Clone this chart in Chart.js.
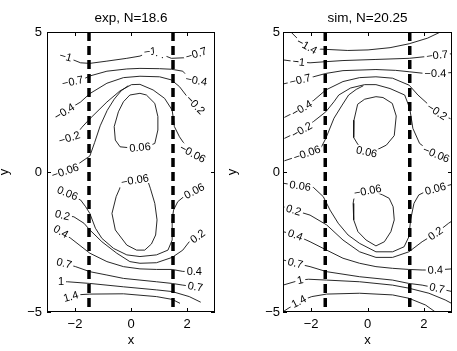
<!DOCTYPE html>
<html>
<head>
<meta charset="utf-8">
<script src="https://cdn.jsdelivr.net/npm/chart.js@4.4.0/dist/chart.umd.min.js"></script>
<style>
  html, body { margin: 0; padding: 0; background: #fff; }
  #wrap { position: relative; width: 457px; height: 351px; }
  canvas { position: absolute; top: 0; }
  #expChart { left: 0; }
  #simChart { left: 228px; }
</style>
</head>
<body>
<div id="wrap">
  <canvas id="expChart" width="228" height="351"></canvas>
  <canvas id="simChart" width="229" height="351"></canvas>
</div>
<script>
const xTicks = [-2, 0, 2];
const yTicks = [-5, 0, 5];
const xRange = [-3, 3];
const yRange = [-5, 5];
const dashX = [-1.5, 1.5];

// contour lines: [x, y] or [x, y, label]
const expLines = [
  [[-2.6, 4.15], [-2.33, 4.12, '−1'], [-2.05, 4.0], [-1.8, 3.9], [-1.47, 3.88], [-0.86, 3.96], [-0.15, 4.06], [0.32, 4.14], [0.68, 4.3, '−1'], [1.05, 4.22, '. .'], [1.44, 4.06], [1.91, 4.08], [2.33, 4.22, '−0.7'], [2.55, 4.28]],
  [[-2.08, 3.23, '−0.7'], [-1.74, 3.3], [-1.47, 3.43], [-0.86, 3.6], [-0.15, 3.68], [0.32, 3.7], [1.02, 3.69], [1.44, 3.67], [1.85, 3.6], [2.1, 3.32], [2.33, 3.27, '−0.4'], [2.55, 3.25]],
  [[-2.38, 2.15, '−0.4'], [-1.8, 2.5], [-1.47, 2.8], [-0.86, 3.17], [-0.27, 3.37], [0.32, 3.42], [1.02, 3.4], [1.44, 3.29], [1.73, 3.05], [1.96, 2.75], [2.3, 2.4, '−0.2'], [2.5, 2.2]],
  [[-2.5, 1.18], [-2.2, 1.22, '−0.2'], [-1.95, 1.35], [-1.75, 1.6], [-1.47, 1.9], [-0.86, 2.5], [-0.39, 2.9], [0.02, 3.12], [0.32, 3.13], [0.79, 2.93], [1.2, 2.63], [1.47, 2.21], [1.55, 1.62], [1.73, 1.26], [1.96, 0.92], [2.2, 0.66, '−0.06'], [2.55, 0.6]],
  [[-2.6, 0.0], [-2.35, 0.03, '−0.06'], [-2.0, 0.2], [-1.75, 0.38], [-1.47, 0.57], [-1.3, 1.05], [-1.1, 1.65], [-0.85, 2.2], [-0.6, 2.6], [-0.35, 2.9], [-0.1, 3.08]],
  [[0.32, 2.81], [-0.04, 2.75], [-0.27, 2.51], [-0.45, 2.15], [-0.6, 1.62], [-0.56, 1.14], [-0.39, 0.9], [0.0, 0.86], [0.32, 0.88, '0.06'], [0.6, 0.92], [0.85, 1.02], [0.96, 1.5], [0.96, 1.98], [0.85, 2.45], [0.55, 2.75], [0.32, 2.81]],
  [[0.14, -0.29, '−0.06'], [-0.1, -0.33], [-0.33, -0.42], [-0.53, -0.88], [-0.68, -1.48], [-0.56, -2.07], [-0.15, -2.61], [0.2, -2.79], [0.49, -2.79], [0.73, -2.57], [0.88, -2.25], [0.93, -1.71], [0.85, -1.12], [0.69, -0.58], [0.6, -0.32], [0.4, -0.25], [0.14, -0.29]],
  [[-2.55, -0.7], [-2.27, -0.76, '0.06'], [-1.8, -1.0], [-1.62, -1.24], [-1.47, -1.48], [-1.27, -2.01], [-1.04, -2.37], [-0.62, -2.73], [-0.15, -2.96], [0.32, -3.02], [0.91, -2.96], [1.32, -2.79], [1.47, -2.43], [1.47, -1.71], [1.52, -1.36], [1.67, -1.06], [1.96, -0.82], [2.26, -0.68, '0.06'], [2.45, -0.55]],
  [[-2.65, -1.45], [-2.45, -1.54, '0.2'], [-2.04, -1.6], [-1.68, -1.83], [-1.47, -2.07], [-1.04, -2.49], [-0.51, -2.9], [-0.04, -3.2], [0.32, -3.26], [0.91, -3.24], [1.47, -3.05], [1.85, -2.79], [2.08, -2.49], [2.38, -2.3, '0.2'], [2.55, -2.15]],
  [[-2.7, -2.05], [-2.5, -2.13, '0.4'], [-2.15, -2.37], [-1.47, -2.9], [-0.86, -3.2], [-0.27, -3.38], [0.32, -3.46], [0.91, -3.48], [1.47, -3.48], [1.85, -3.55], [2.26, -3.56, '0.4'], [2.55, -3.55]],
  [[-2.65, -3.2], [-2.39, -3.26, '0.7'], [-1.98, -3.38], [-1.47, -3.56], [-0.86, -3.68], [-0.27, -3.8], [0.32, -3.86], [0.91, -3.92], [1.47, -3.98], [1.85, -4.04], [2.3, -4.1, '0.7'], [2.55, -4.15]],
  [[-2.5, -3.92, '1'], [-2.27, -3.92], [-1.47, -3.98], [-0.27, -4.1], [0.91, -4.21], [1.47, -4.27], [2.08, -4.45], [2.49, -4.65]],
  [[-2.4, -4.55], [-2.15, -4.45, '1.4'], [-1.8, -4.38], [-1.47, -4.36], [-0.27, -4.35], [0.91, -4.45], [1.47, -4.55], [1.75, -4.69]]
];

const simLines = [
  [[-2.72, 5.0], [-2.4, 4.68], [-2.15, 4.5, '−1.4'], [-1.9, 4.4], [-1.48, 4.38], [-0.7, 4.34], [0.02, 4.36], [0.8, 4.44], [1.48, 4.58], [2.13, 4.78], [2.59, 5.0]],
  [[-2.97, 4.0], [-2.44, 3.93, '−1'], [-2.04, 3.9], [-1.48, 3.94], [-0.87, 3.98], [0.3, 4.02], [1.48, 4.06], [2.06, 4.12], [2.47, 4.17, '−0.7'], [2.97, 4.22]],
  [[-2.97, 3.15], [-2.39, 3.29, '−0.7'], [-1.92, 3.4], [-1.48, 3.52], [-0.87, 3.62], [0.3, 3.66], [1.0, 3.63], [1.48, 3.58], [1.94, 3.53], [2.41, 3.52, '−0.4'], [2.97, 3.55]],
  [[-2.95, 1.95], [-2.33, 2.27, '−0.4'], [-1.92, 2.55], [-1.48, 2.93], [-0.87, 3.23], [-0.28, 3.37], [0.3, 3.4], [0.89, 3.35], [1.48, 3.1], [1.79, 2.75], [2.12, 2.45], [2.47, 2.15, '−0.2'], [2.95, 1.9]],
  [[-2.95, 1.2], [-2.33, 1.5, '−0.2'], [-1.92, 1.8], [-1.48, 2.15], [-1.19, 2.51], [-1.02, 2.75], [-0.6, 3.0], [-0.1, 3.12], [0.3, 3.12], [0.8, 2.98], [1.32, 2.75], [1.5, 2.27], [1.61, 1.56], [1.85, 1.02], [2.08, 0.85], [2.44, 0.63, '−0.06'], [2.95, 0.49]],
  [[-2.95, 0.4], [-2.15, 0.67, '−0.06'], [-1.66, 0.85], [-1.48, 1.2], [-1.19, 1.92], [-0.9, 2.39], [-0.67, 2.75], [-0.4, 2.95], [-0.15, 3.08]],
  [[0.3, 2.69], [-0.1, 2.6], [-0.35, 2.42], [-0.48, 1.85], [-0.49, 1.23], [-0.32, 0.95], [-0.03, 0.72, '0.06'], [0.35, 0.8], [0.67, 0.96], [0.95, 1.3], [1.02, 2.0], [0.88, 2.45], [0.55, 2.66], [0.3, 2.69]],
  [[0.01, -0.67, '−0.06'], [-0.25, -0.72], [-0.46, -0.82], [-0.51, -1.12], [-0.49, -1.71], [-0.34, -2.13], [-0.05, -2.43], [0.3, -2.64], [0.6, -2.49], [0.83, -2.13], [0.95, -1.71], [0.91, -1.24], [0.77, -0.94], [0.54, -0.82], [0.3, -0.72], [0.01, -0.67]],
  [[-3.0, -0.4], [-2.39, -0.5, '0.06'], [-1.92, -0.55], [-1.57, -0.88], [-1.33, -1.36], [-1.04, -1.83], [-0.69, -2.25], [-0.28, -2.55], [0.3, -2.85], [0.89, -2.85], [1.3, -2.67], [1.47, -2.31], [1.53, -1.71], [1.65, -1.12], [1.82, -0.82], [2.06, -0.7], [2.41, -0.6, '0.06'], [2.97, -0.45]],
  [[-3.0, -1.24], [-2.62, -1.36, '0.2'], [-2.04, -1.54], [-1.45, -1.89], [-0.87, -2.43], [-0.28, -2.85], [0.3, -3.05], [0.89, -3.05], [1.47, -2.85], [1.94, -2.49], [2.41, -2.2, '0.2'], [2.88, -1.83], [3.0, -1.75]],
  [[-3.0, -2.13], [-2.56, -2.25, '0.4'], [-2.04, -2.49], [-1.45, -2.79], [-0.87, -3.08], [-0.28, -3.26], [0.3, -3.38], [0.89, -3.44], [1.47, -3.48], [1.94, -3.5], [2.41, -3.5, '0.4'], [3.0, -3.46]],
  [[-3.0, -3.14], [-2.56, -3.26, '0.7'], [-2.04, -3.38], [-1.45, -3.56], [-0.28, -3.74], [0.89, -3.86], [1.47, -3.98], [1.94, -4.04], [2.47, -4.15, '0.7'], [3.0, -4.27]],
  [[-3.0, -4.04], [-2.39, -3.86, '1'], [-2.09, -3.83], [-1.45, -3.86], [-0.28, -3.92], [0.89, -4.04], [1.47, -4.15], [2.18, -4.33], [2.76, -4.57], [3.0, -4.7]],
  [[-3.0, -4.99], [-2.44, -4.63, '1.4'], [-1.98, -4.45], [-1.45, -4.36], [-0.28, -4.33], [0.89, -4.39], [1.47, -4.51], [2.06, -4.75], [2.41, -5.0]]
];

const FONT = '"Liberation Sans", Arial, Helvetica, sans-serif';
const fmt = v => String(v).replace('-', '\u2212');

/**
 * Frame, inward ticks, title, axis names and the inline contour labels.
 */
const decorPlugin = {
    id: 'decor',
    afterDatasetsDraw(chart, args, opts) {
        const { ctx, chartArea: a, scales: { x, y } } = chart;
        ctx.save();
        ctx.beginPath();
        ctx.rect(a.left, a.top, a.right - a.left, a.bottom - a.top);
        ctx.clip();
        ctx.font = '11px ' + FONT;
        ctx.textAlign = 'center';
        ctx.textBaseline = 'middle';
        opts.lines.forEach(line => line.forEach((p, i) => {
            if (p.length < 3) return;
            const q0 = line[Math.max(0, i - 1)];
            const q1 = line[Math.min(line.length - 1, i + 1)];
            let ang = Math.atan2(
                y.getPixelForValue(q1[1]) - y.getPixelForValue(q0[1]),
                x.getPixelForValue(q1[0]) - x.getPixelForValue(q0[0]));
            if (ang > Math.PI / 2) ang -= Math.PI;
            if (ang < -Math.PI / 2) ang += Math.PI;
            const w = ctx.measureText(p[2]).width;
            ctx.save();
            ctx.translate(x.getPixelForValue(p[0]), y.getPixelForValue(p[1]));
            ctx.rotate(ang);
            ctx.fillStyle = '#fff';
            ctx.fillRect(-w / 2 - 2, -5, w + 4, 10);
            ctx.fillStyle = '#000';
            ctx.fillText(p[2], 0, 0.5);
            ctx.restore();
        }));
        ctx.restore();
    },
    afterDraw(chart, args, opts) {
        const { ctx, chartArea: a, scales: { x, y } } = chart;
        ctx.save();
        ctx.strokeStyle = '#000';
        ctx.lineWidth = 1;
        ctx.strokeRect(a.left + 0.5, a.top + 0.5, a.right - a.left - 1, a.bottom - a.top - 1);
        ctx.beginPath();
        xTicks.forEach(v => {
            const px = Math.round(x.getPixelForValue(v)) + 0.5;
            ctx.moveTo(px, a.bottom); ctx.lineTo(px, a.bottom - 4);
            ctx.moveTo(px, a.top); ctx.lineTo(px, a.top + 4);
        });
        yTicks.forEach(v => {
            const py = Math.round(y.getPixelForValue(v)) + 0.5;
            ctx.moveTo(a.left, py); ctx.lineTo(a.left + 4, py);
            ctx.moveTo(a.right, py); ctx.lineTo(a.right - 4, py);
        });
        ctx.stroke();

        ctx.fillStyle = '#000';
        ctx.textAlign = 'center';
        ctx.textBaseline = 'middle';
        ctx.font = '13.5px ' + FONT;
        ctx.fillText(opts.title, (a.left + a.right) / 2, 18);
        ctx.font = '13px ' + FONT;
        ctx.fillText('x', (a.left + a.right) / 2, 340);
        ctx.translate(4, (a.top + a.bottom) / 2);
        ctx.rotate(-Math.PI / 2);
        ctx.fillText('y', 0, 0);
        ctx.restore();
    }
};

function drawPanel(id, title, lines, yAxisWidth, padRight, yTickPad) {
    const ctx = document.getElementById(id)?.getContext('2d');
    if (!ctx) return;

    const dashed = dashX.map(v => ({
        data: [{ x: v, y: yRange[1] }, { x: v, y: yRange[0] }],
        borderColor: '#000',
        borderWidth: 3.5,
        borderDash: [9, 5],
        borderCapStyle: 'butt',
        order: 0
    }));
    const contours = lines.map(line => ({
        data: line.map(p => ({ x: p[0], y: p[1] })),
        borderColor: '#111',
        borderWidth: 0.9,
        order: 1
    }));

    const tickFont = { family: FONT, size: 13 };

    new Chart(ctx, {
        type: 'scatter',
        data: { datasets: dashed.concat(contours) },
        options: {
            responsive: false,
            animation: false,
            events: [],
            layout: { padding: { top: 32, right: padRight, left: 0, bottom: 0 } },
            elements: {
                point: { radius: 0 },
                line: { tension: 0, fill: false }
            },
            datasets: { scatter: { showLine: true } },
            plugins: {
                legend: { display: false },
                tooltip: { enabled: false },
                decor: { lines, title }
            },
            scales: {
                x: {
                    type: 'linear',
                    min: xRange[0],
                    max: xRange[1],
                    afterBuildTicks: s => { s.ticks = xTicks.map(value => ({ value })); },
                    afterFit: s => { s.height = 39; },
                    grid: { display: false, drawTicks: false },
                    border: { display: false },
                    ticks: { color: '#000', font: tickFont, padding: 5, maxRotation: 0, autoSkip: false, callback: fmt }
                },
                y: {
                    type: 'linear',
                    min: yRange[0],
                    max: yRange[1],
                    afterBuildTicks: s => { s.ticks = yTicks.map(value => ({ value })); },
                    afterFit: s => { s.width = yAxisWidth; },
                    grid: { display: false, drawTicks: false },
                    border: { display: false },
                    ticks: { color: '#000', font: tickFont, padding: yTickPad, autoSkip: false, callback: fmt }
                }
            }
        },
        plugins: [decorPlugin]
    });
}

document.addEventListener('DOMContentLoaded', () => {
    drawPanel('expChart', 'exp, N=18.6', expLines, 47, 13, 5);
    drawPanel('simChart', 'sim, N=20.25', simLines, 55, 5, 3);
});
</script>
</body>
</html>
